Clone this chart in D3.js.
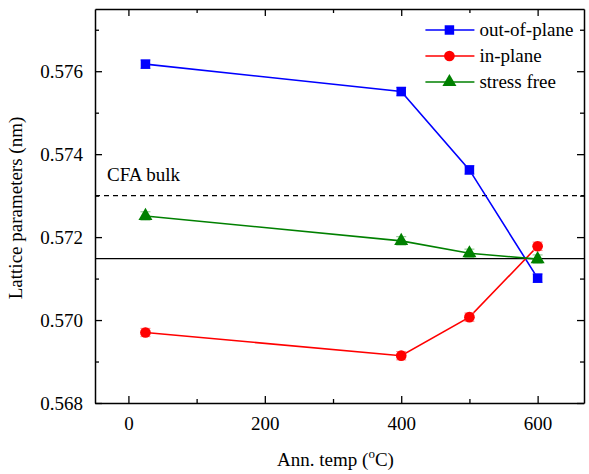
<!DOCTYPE html>
<html>
<head>
<meta charset="utf-8">
<script src="https://cdn.jsdelivr.net/npm/d3@7"></script>
</head>
<body style="margin:0; background:#fff">
<div id="chart"></div>
<script>
// data
var temps = [25, 400, 500, 600];
var outOfPlane = [0.57617, 0.57551, 0.57362, 0.57101];
var inPlane = [0.56970, 0.56914, 0.57007, 0.57178];
var stressFree = [0.57251, 0.57191, 0.57161, 0.57147];
var errs = [0.0001, 0.0001, 0.0001, 0.0001];
var seriesNames = ["out-of-plane", "in-plane", "stress free"];
var seriesColors = ["#0000ff", "#ff0000", "#008000"];
var errColors = ["#8080ff", "#ff8080", "#80c080"];
var bulkValue = 0.573;
var refValue = 0.57148;
var xTicks = [0, 200, 400, 600];
var yTicks = [0.568, 0.570, 0.572, 0.574, 0.576];

var FONT = "Liberation Serif";

var margin = {top: 9, right: 5, bottom: 71, left: 95},
  width = 589 - margin.left - margin.right,
  height = 474 - margin.top - margin.bottom;

var root = d3.select("#chart").append("svg")
  .attr("width", 589)
  .attr("height", 474);
var svg = root.append("g")
  .attr("transform", "translate(" + margin.left + "," + margin.top + ")");

var x = d3.scaleLinear().domain([-49, 668]).range([0, width]);
var y = d3.scaleLinear().domain([0.568, 0.5775]).range([height, 0]);

// every text gets its font set directly
function serifText(sel, size) {
    return sel.attr("font-family", FONT).attr("font-size", size).attr("fill", "#000");
}

// reference lines
svg.append("line")
  .attr("x1", 0).attr("x2", width)
  .attr("y1", y(bulkValue)).attr("y2", y(bulkValue))
  .attr("stroke", "#000").attr("stroke-width", 1.3)
  .attr("stroke-dasharray", "5,4");
svg.append("line")
  .attr("x1", 0).attr("x2", width)
  .attr("y1", y(refValue)).attr("y2", y(refValue))
  .attr("stroke", "#000").attr("stroke-width", 1.3);

serifText(svg.append("text"), 19)
  .attr("x", 12).attr("y", y(bulkValue) - 15)
  .text("CFA bulk");

var series = [outOfPlane, inPlane, stressFree];
var line = d3.line()
  .x(function(d, i) { return x(temps[i]); })
  .y(function(d) { return y(d); });

var symbols = [d3.symbolSquare, d3.symbolCircle, d3.symbolTriangle];
var symSizes = [90, 90, 85];

series.forEach(function(vals, s) {
    svg.append("path")
      .attr("d", line(vals))
      .attr("fill", "none")
      .attr("stroke", seriesColors[s])
      .attr("stroke-width", 1.6);

    var g = svg.append("g");
    vals.forEach(function(v, i) {
        var cx = x(temps[i]);
        g.append("line")
          .attr("x1", cx).attr("x2", cx)
          .attr("y1", y(v - errs[i])).attr("y2", y(v + errs[i]))
          .attr("stroke", errColors[s]).attr("stroke-width", 1);
        [v - errs[i], v + errs[i]].forEach(function(e) {
            g.append("line")
              .attr("x1", cx - 5).attr("x2", cx + 5)
              .attr("y1", y(e)).attr("y2", y(e))
              .attr("stroke", errColors[s]).attr("stroke-width", 1);
        });
        g.append("path")
          .attr("d", d3.symbol().type(symbols[s]).size(symSizes[s])())
          .attr("transform", "translate(" + cx + "," + y(v) + ")")
          .attr("fill", seriesColors[s]);
    });
});

// axes with inward ticks, mirrored on top and right
function styleAxis(g) {
    g.attr("font-family", FONT).attr("font-size", 19);
    g.select(".domain").attr("stroke", "#000").attr("stroke-width", 1.5);
    g.selectAll(".tick line").attr("stroke", "#000").attr("stroke-width", 1.3);
    serifText(g.selectAll(".tick text"), 19);
}

var xMinor = [100, 300, 500];
var yMinor = [0.569, 0.571, 0.573, 0.575, 0.577];

svg.append("g").attr("transform", "translate(0," + height + ")")
  .call(d3.axisBottom(x).tickValues(xTicks).tickSizeInner(-7).tickSizeOuter(0).tickPadding(14))
  .call(styleAxis);
svg.append("g").attr("transform", "translate(0," + height + ")")
  .call(d3.axisBottom(x).tickValues(xMinor).tickSize(-4).tickFormat(""))
  .call(styleAxis).select(".domain").remove();

svg.append("g")
  .call(d3.axisTop(x).tickValues(xTicks).tickSizeInner(-7).tickSizeOuter(0).tickFormat(""))
  .call(styleAxis);
svg.append("g")
  .call(d3.axisTop(x).tickValues(xMinor).tickSize(-4).tickFormat(""))
  .call(styleAxis).select(".domain").remove();

svg.append("g")
  .call(d3.axisLeft(y).tickValues(yTicks).tickFormat(d3.format(".3f"))
    .tickSizeInner(-7).tickSizeOuter(0).tickPadding(12))
  .call(styleAxis);
svg.append("g")
  .call(d3.axisLeft(y).tickValues(yMinor).tickSize(-4).tickFormat(""))
  .call(styleAxis).select(".domain").remove();

svg.append("g").attr("transform", "translate(" + width + ",0)")
  .call(d3.axisRight(y).tickValues(yTicks).tickSizeInner(-7).tickSizeOuter(0).tickFormat(""))
  .call(styleAxis);
svg.append("g").attr("transform", "translate(" + width + ",0)")
  .call(d3.axisRight(y).tickValues(yMinor).tickSize(-4).tickFormat(""))
  .call(styleAxis).select(".domain").remove();

// axis titles
serifText(svg.append("text"), 19)
  .attr("transform", "translate(" + (-73) + "," + (height / 2 + 2) + ") rotate(-90)")
  .attr("text-anchor", "middle")
  .text("Lattice parameters (nm)");

var xTitle = serifText(svg.append("text"), 19)
  .attr("x", width / 2 - 4).attr("y", height + 63)
  .attr("text-anchor", "middle");
xTitle.append("tspan").text("Ann. temp (");
xTitle.append("tspan").attr("dy", -8).attr("font-size", 13).text("o");
xTitle.append("tspan").attr("dy", 8).text("C)");

// legend
var legend = svg.append("g")
  .attr("transform", "translate(" + (x(0) + 297) + ",21)");
seriesNames.forEach(function(name, s) {
    var row = legend.append("g").attr("transform", "translate(0," + (s * 26) + ")");
    row.append("line")
      .attr("x1", 0).attr("x2", 49)
      .attr("stroke", seriesColors[s]).attr("stroke-width", 1.6);
    row.append("path")
      .attr("d", d3.symbol().type(symbols[s]).size(symSizes[s])())
      .attr("transform", "translate(24,0)")
      .attr("fill", seriesColors[s]);
    serifText(row.append("text"), 19)
      .attr("x", 54).attr("y", 6)
      .text(name);
});
</script>
</body>
</html>
